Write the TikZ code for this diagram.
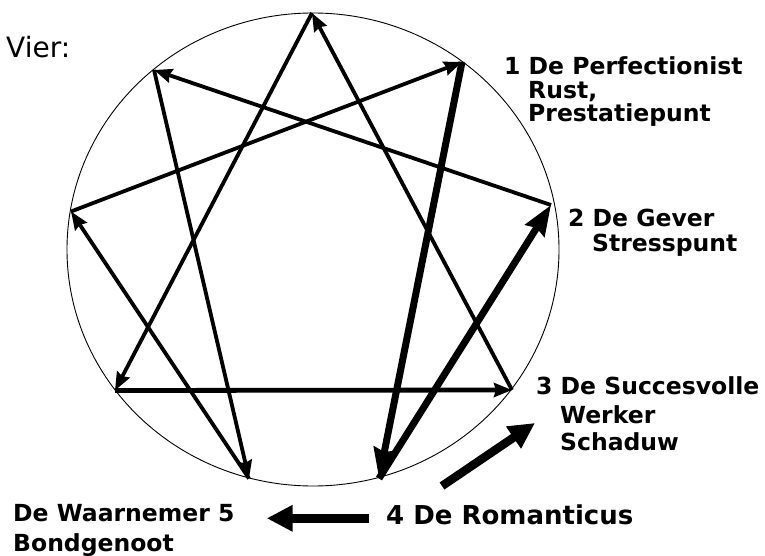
\documentclass[tikz,border=0pt]{standalone}
\usepackage{fontspec}
\setmainfont{DejaVu Sans}
\usetikzlibrary{arrows.meta}
\begin{document}
\begin{tikzpicture}[x=1pt,y=-1pt,
  ring/.style={line width=0.9pt},
  edge/.style={line width=3.8pt,-{Stealth[length=18pt,width=14pt,inset=2pt]}},
  flat/.style={line width=4.8pt,-{Stealth[length=18pt,width=14pt,inset=2pt]}},
  heavy/.style={line width=7pt,-{Stealth[length=30pt,width=22pt,inset=3pt]}},
  outer/.style={line width=8.5pt,-{Triangle[length=26pt,width=25pt]}},
  lab/.style={font=\fontsize{23.5}{27}\selectfont\bfseries,anchor=base west,inner sep=0pt},
  big/.style={font=\fontsize{26}{30}\selectfont\bfseries,anchor=base west,inner sep=0pt},
  plain/.style={font=\fontsize{28}{32}\selectfont,anchor=base west,inner sep=0pt}]
\useasboundingbox (0,0) rectangle (765,556);
\fill[white] (0,0) rectangle (765,556);
% circle
\draw[ring] (313,249.5) ellipse [x radius=246pt, y radius=236.5pt];
% points
\coordinate (p9) at (312,13);
\coordinate (p1) at (462,62);
\coordinate (p2) at (551,205);
\coordinate (p3) at (512,390);
\coordinate (p4) at (379,478.5);
\coordinate (p5) at (249,478.5);
\coordinate (p6) at (115,390.5);
\coordinate (p7) at (71,211.5);
\coordinate (p8) at (154,70);
% triangle
\draw[edge] (p9) -- (p6);
\draw[flat] (p6) -- (p3);
\draw[edge] (p3) -- (p9);
% hexad
\draw[heavy] (p1) -- (p4);
\draw[heavy] (p4) -- (p2);
\draw[edge] (p2) -- (p8);
\draw[edge] (p8) -- (p5);
\draw[edge] (p5) -- (p7);
\draw[edge] (p7) -- (p1);
% labels
\node[plain] (vier) at (6,57.3) {Vier:};
\node[lab] (l1a) at (504,75) {1 De Perfectionist};
\node[lab] (l1b) at (528,98.3) {Rust,};
\node[lab] (l1c) at (528,121.7) {Prestatiepunt};
\node[lab] (l2a) at (568,226.7) {2 De Gever};
\node[lab] (l2b) at (592,251) {Stresspunt};
\node[lab] (l3a) at (536,394) {3 De Succesvolle};
\node[lab] (l3b) at (560,423.3) {Werker};
\node[lab] (l3c) at (560,450) {Schaduw};
\node[lab] (l5a) at (13,521.7) {De Waarnemer 5};
\node[lab] (l5b) at (13,551) {Bondgenoot};
\node[big] (rom) at (386,524) {4 De Romanticus};
% outer arrows
\coordinate (a3s) at (442,486);
\coordinate (a3e) at (535,423);
\coordinate (a5s) at (368.5,518.3);
\coordinate (a5e) at (266.7,518.3);
\draw[outer] (a3s) -- (a3e);
\draw[outer] (a5s) -- (a5e);
\end{tikzpicture}
\end{document}
